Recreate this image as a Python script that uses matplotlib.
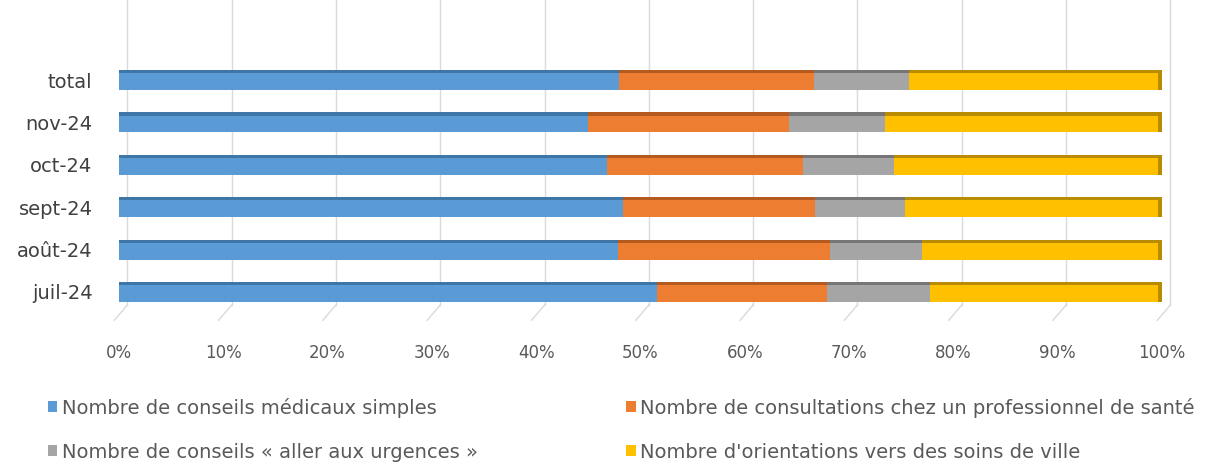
import numpy as np
import matplotlib
matplotlib.use("Agg")
import matplotlib.pyplot as plt
from matplotlib.patches import Patch

plt.rcParams['font.family'] = ['DejaVu Sans']

# ---- data (share of each outcome, %) ----
mois = ["juil-24", "août-24", "sept-24", "oct-24", "nov-24", "total"]
conseils_simples = [51.6, 47.8, 48.3, 46.8, 45.0, 47.9]
consultations = [16.3, 20.4, 18.4, 18.8, 19.2, 18.7]
urgences = [9.9, 8.8, 8.7, 8.7, 9.2, 9.1]
soins_ville = [22.2, 23.0, 24.6, 25.7, 26.6, 24.3]

series = [
    ("Nombre de conseils médicaux simples", conseils_simples, "#5B9BD5", "#3F76A8"),
    ("Nombre de consultations chez un professionnel de santé", consultations, "#ED7D31", "#B45A1E"),
    ("Nombre de conseils « aller aux urgences »", urgences, "#A5A5A5", "#767676"),
    ("Nombre d'orientations vers des soins de ville", soins_ville, "#FFC000", "#B98B00"),
]

fig = plt.figure(figsize=(12.14, 4.67), dpi=100)
ax = fig.add_axes([119 / 1214, 162 / 467, 1043 / 1214, 305 / 467])

y = np.arange(len(mois))
h = 0.47
top = 0.075
left = np.zeros(len(mois))
for name, vals, col, dark in series:
    vals = np.array(vals)
    ax.barh(y, vals, h, left=left, color=col, edgecolor="none", zorder=3)
    # darker top face for the 3D look
    ax.barh(y + h / 2 - top / 2, vals, top, left=left, color=dark,
            edgecolor="none", zorder=4)
    left = left + vals
# side face at the right end of each bar
ax.barh(y, np.full(len(mois), 0.35), h, left=left - 0.35, color=series[-1][3],
        edgecolor="none", zorder=5)

# back-wall gridlines with floor perspective
ticks = np.arange(0, 101, 10)
off = 0.8
for t in ticks:
    ax.plot([t + off, t + off], [0, 1], color="#DADADA", lw=1.0,
            transform=ax.get_xaxis_transform(), clip_on=False, zorder=1)
    ax.plot([t + off, t - 0.45], [0, -0.05], color="#DADADA", lw=1.0,
            transform=ax.get_xaxis_transform(), clip_on=False, zorder=1)

ax.set_xlim(0, 100)
ax.set_ylim(-0.307, 6.887)
ax.set_xticks(ticks)
ax.set_xticklabels([f"{t}%" for t in ticks], color="#595959", fontsize=12)
ax.set_yticks(y)
ax.set_yticklabels(mois, color="#404040", fontsize=14)
ax.tick_params(axis="x", length=0, pad=28)
ax.tick_params(axis="y", length=0, pad=19)
for s in ax.spines.values():
    s.set_visible(False)

# two-column legend: blue/orange on the first row, gray/yellow on the second
order = [0, 2, 1, 3]
handles = [Patch(facecolor=series[i][2], label=series[i][0]) for i in order]
fig.legend(handles=handles, ncol=2, loc="upper left",
           bbox_to_anchor=(30 / 1214, 1 - 380 / 467), frameon=False,
           fontsize=14, labelcolor="#595959", handlelength=0.5,
           handleheight=0.5, handletextpad=0.25, columnspacing=7.6,
           labelspacing=1.3)

fig.savefig("out.png", dpi=100)
